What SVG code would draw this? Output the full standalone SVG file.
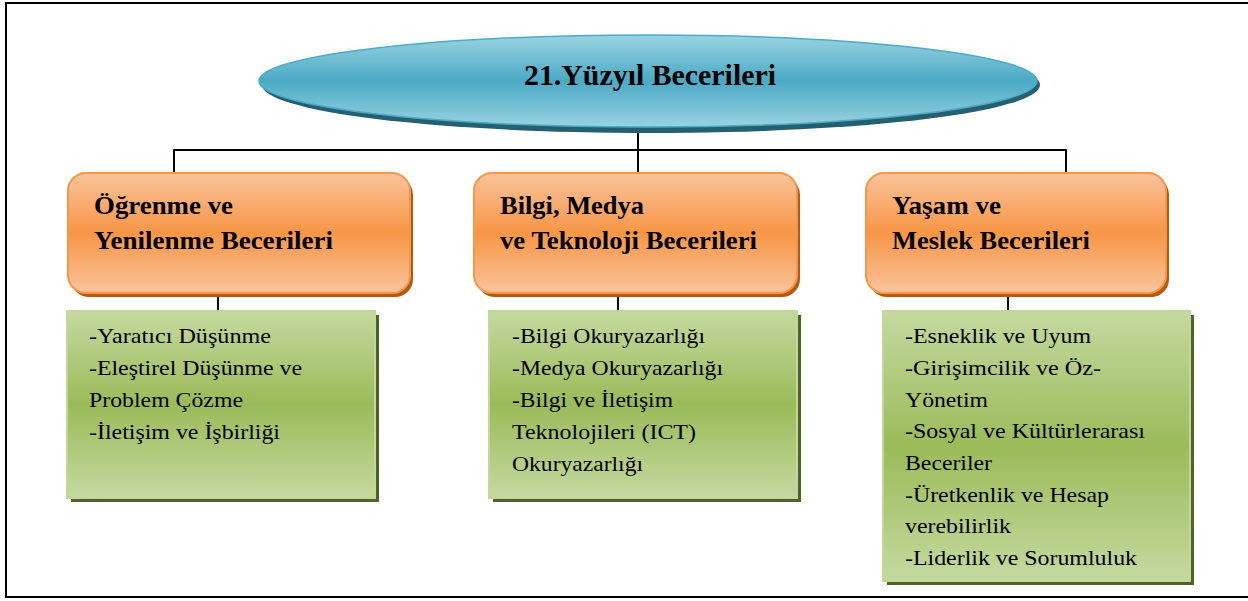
<svg xmlns="http://www.w3.org/2000/svg" width="1248" height="601" viewBox="0 0 1248 601">
<defs>
<linearGradient id="gBlue" x1="0" y1="0" x2="0" y2="1">
<stop offset="0" stop-color="#9ad3e2"/>
<stop offset="0.5" stop-color="#4aaac5"/>
<stop offset="1" stop-color="#9ad3e2"/>
</linearGradient>
<linearGradient id="gOrange" x1="0" y1="0" x2="0" y2="1">
<stop offset="0" stop-color="#fac39c"/>
<stop offset="0.5" stop-color="#f79646"/>
<stop offset="1" stop-color="#fac39c"/>
</linearGradient>
<linearGradient id="gGreen" x1="0" y1="0" x2="0" y2="1">
<stop offset="0" stop-color="#c5d9a0"/>
<stop offset="0.5" stop-color="#9bbb59"/>
<stop offset="1" stop-color="#c5d9a0"/>
</linearGradient>
<style>
.frame{fill:none;stroke:#000;stroke-width:2}
.conn{fill:none;stroke:#000;stroke-width:2}
.ell{fill:url(#gBlue);stroke:#4bacc6;stroke-width:1.5}
.ellsh{fill:#265f70}
.ob{fill:url(#gOrange);stroke:#f79646;stroke-width:2}
.obsh{fill:#b45a10}
.gb{fill:url(#gGreen);stroke:#c3d69b;stroke-width:2}
.gbsh{fill:#4f6228}
.title{font-family:"Liberation Serif","Times New Roman",serif;font-weight:bold;font-size:30px;fill:#000}
.head{font-family:"Liberation Serif","Times New Roman",serif;font-weight:bold;font-size:26px;fill:#000}
.item{font-family:"Liberation Serif","Times New Roman",serif;font-size:22px;fill:#000}
</style>
</defs>
<rect class="frame" x="6" y="3" width="1250" height="594"/>
<g id="connectors">
<path class="conn" d="M638,128 V172"/>
<path class="conn" d="M174,172 V150 H1066 V172"/>
<path class="conn" d="M218,293 V311"/>
<path class="conn" d="M618,293 V311"/>
<path class="conn" d="M1008,293 V311"/>
</g>
<g id="root">
<ellipse class="ellsh" cx="651" cy="85" rx="389" ry="48"/>
<ellipse class="ell" cx="648" cy="81" rx="389" ry="46"/>
<text class="title" x="650" y="85" text-anchor="middle" textLength="252" lengthAdjust="spacingAndGlyphs">21.Yüzyıl Becerileri</text>
</g>
<g id="node-ogrenme">
<rect class="obsh" x="71" y="177" width="342" height="120" rx="18"/>
<rect class="ob" x="68" y="173" width="342" height="120" rx="18"/>
<text class="head" x="94" y="214" textLength="139" lengthAdjust="spacingAndGlyphs">Öğrenme ve</text>
<text class="head" x="94" y="249" textLength="239" lengthAdjust="spacingAndGlyphs">Yenilenme Becerileri</text>
</g>
<g id="node-bilgi">
<rect class="obsh" x="477" y="177" width="323" height="120" rx="18"/>
<rect class="ob" x="474" y="173" width="323" height="120" rx="18"/>
<text class="head" x="500" y="214" textLength="144" lengthAdjust="spacingAndGlyphs">Bilgi, Medya</text>
<text class="head" x="500" y="249" textLength="257" lengthAdjust="spacingAndGlyphs">ve Teknoloji Becerileri</text>
</g>
<g id="node-yasam">
<rect class="obsh" x="869" y="177" width="300" height="120" rx="18"/>
<rect class="ob" x="866" y="173" width="300" height="120" rx="18"/>
<text class="head" x="892" y="214" textLength="109" lengthAdjust="spacingAndGlyphs">Yaşam ve</text>
<text class="head" x="892" y="249" textLength="198" lengthAdjust="spacingAndGlyphs">Meslek Becerileri</text>
</g>
<g id="list-ogrenme">
<rect class="gbsh" x="71" y="315" width="308" height="187"/>
<rect class="gb" x="67" y="311" width="308" height="187"/>
<text class="item" x="89" y="343" textLength="182" lengthAdjust="spacingAndGlyphs">-Yaratıcı Düşünme</text>
<text class="item" x="89" y="375" textLength="213" lengthAdjust="spacingAndGlyphs">-Eleştirel Düşünme ve</text>
<text class="item" x="89" y="407" textLength="154" lengthAdjust="spacingAndGlyphs">Problem Çözme</text>
<text class="item" x="89" y="439" textLength="191" lengthAdjust="spacingAndGlyphs">-İletişim ve İşbirliği</text>
</g>
<g id="list-bilgi">
<rect class="gbsh" x="493" y="315" width="308" height="187"/>
<rect class="gb" x="489" y="311" width="308" height="187"/>
<text class="item" x="512" y="343" textLength="193" lengthAdjust="spacingAndGlyphs">-Bilgi Okuryazarlığı</text>
<text class="item" x="512" y="375" textLength="211" lengthAdjust="spacingAndGlyphs">-Medya Okuryazarlığı</text>
<text class="item" x="512" y="407" textLength="161" lengthAdjust="spacingAndGlyphs">-Bilgi ve İletişim</text>
<text class="item" x="512" y="439" textLength="184" lengthAdjust="spacingAndGlyphs">Teknolojileri (ICT)</text>
<text class="item" x="512" y="471" textLength="131" lengthAdjust="spacingAndGlyphs">Okuryazarlığı</text>
</g>
<g id="list-yasam">
<rect class="gbsh" x="887" y="315" width="307" height="270"/>
<rect class="gb" x="883" y="311" width="307" height="270"/>
<text class="item" x="905" y="343" textLength="186" lengthAdjust="spacingAndGlyphs">-Esneklik ve Uyum</text>
<text class="item" x="905" y="375" textLength="196" lengthAdjust="spacingAndGlyphs">-Girişimcilik ve Öz-</text>
<text class="item" x="905" y="407" textLength="83" lengthAdjust="spacingAndGlyphs">Yönetim</text>
<text class="item" x="905" y="438" textLength="240" lengthAdjust="spacingAndGlyphs">-Sosyal ve Kültürlerarası</text>
<text class="item" x="905" y="470" textLength="87" lengthAdjust="spacingAndGlyphs">Beceriler</text>
<text class="item" x="905" y="502" textLength="204" lengthAdjust="spacingAndGlyphs">-Üretkenlik ve Hesap</text>
<text class="item" x="905" y="533" textLength="106" lengthAdjust="spacingAndGlyphs">verebilirlik</text>
<text class="item" x="905" y="565" textLength="232" lengthAdjust="spacingAndGlyphs">-Liderlik ve Sorumluluk</text>
</g>
</svg>
